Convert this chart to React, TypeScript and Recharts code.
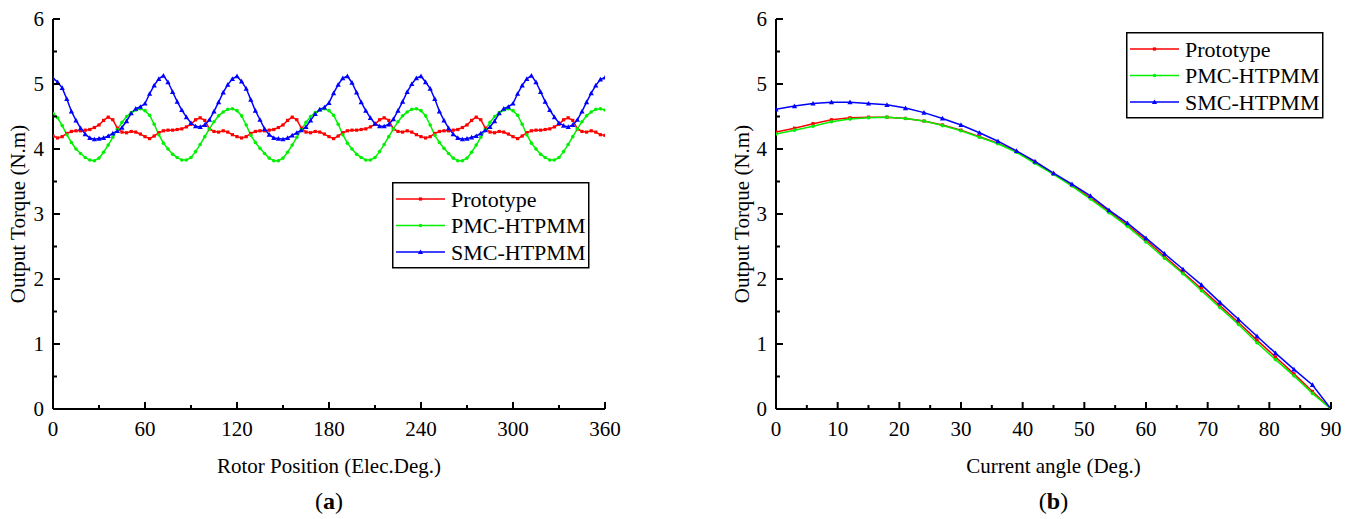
import React from 'react';
import { LineChart, Line, XAxis, YAxis } from 'recharts';

const FONT = '"Liberation Serif", "Times New Roman", serif';

// ---------- (a) Output torque vs rotor position ----------
const rotorAngle = [
  0, 3, 6, 9, 12, 15, 18, 21, 24, 27, 30, 33, 36, 39, 42, 45, 48, 51, 54, 57,
  60, 63, 66, 69, 72, 75, 78, 81, 84, 87, 90, 93, 96, 99, 102, 105, 108, 111, 114, 117,
  120, 123, 126, 129, 132, 135, 138, 141, 144, 147, 150, 153, 156, 159, 162, 165, 168, 171, 174, 177,
  180, 183, 186, 189, 192, 195, 198, 201, 204, 207, 210, 213, 216, 219, 222, 225, 228, 231, 234, 237,
  240, 243, 246, 249, 252, 255, 258, 261, 264, 267, 270, 273, 276, 279, 282, 285, 288, 291, 294, 297,
  300, 303, 306, 309, 312, 315, 318, 321, 324, 327, 330, 333, 336, 339, 342, 345, 348, 351, 354, 357,
  360,
];

const prototypeA = [
  4.20, 4.17, 4.19, 4.24, 4.27, 4.28, 4.28, 4.29, 4.30, 4.33, 4.37, 4.44, 4.49, 4.45, 4.32, 4.26, 4.25, 4.27, 4.26, 4.23,
  4.19, 4.16, 4.20, 4.25, 4.28, 4.29, 4.29, 4.30, 4.31, 4.34, 4.38, 4.45, 4.48, 4.44, 4.31, 4.27, 4.26, 4.28, 4.26, 4.22,
  4.19, 4.17, 4.19, 4.24, 4.27, 4.28, 4.28, 4.29, 4.30, 4.33, 4.37, 4.44, 4.49, 4.45, 4.32, 4.26, 4.25, 4.27, 4.26, 4.23,
  4.19, 4.16, 4.20, 4.25, 4.28, 4.29, 4.29, 4.30, 4.31, 4.34, 4.38, 4.45, 4.48, 4.44, 4.31, 4.27, 4.26, 4.28, 4.26, 4.22,
  4.19, 4.17, 4.19, 4.24, 4.27, 4.28, 4.28, 4.29, 4.30, 4.33, 4.37, 4.44, 4.49, 4.45, 4.32, 4.26, 4.25, 4.27, 4.26, 4.23,
  4.19, 4.16, 4.20, 4.25, 4.28, 4.29, 4.29, 4.30, 4.31, 4.34, 4.38, 4.45, 4.48, 4.44, 4.31, 4.27, 4.26, 4.28, 4.26, 4.22,
  4.21,
];

const pmcA = [
  4.55, 4.48, 4.36, 4.22, 4.10, 4.00, 3.93, 3.87, 3.83, 3.82, 3.86, 3.95, 4.06, 4.18, 4.30, 4.41, 4.50, 4.56, 4.60, 4.62,
  4.59, 4.52, 4.38, 4.22, 4.09, 4.00, 3.92, 3.87, 3.83, 3.83, 3.87, 3.96, 4.07, 4.19, 4.31, 4.42, 4.51, 4.57, 4.61, 4.62,
  4.59, 4.51, 4.37, 4.21, 4.10, 4.01, 3.93, 3.86, 3.82, 3.82, 3.86, 3.95, 4.06, 4.18, 4.30, 4.41, 4.50, 4.56, 4.60, 4.62,
  4.59, 4.52, 4.38, 4.22, 4.09, 4.00, 3.92, 3.87, 3.83, 3.83, 3.87, 3.96, 4.07, 4.19, 4.31, 4.42, 4.51, 4.57, 4.61, 4.62,
  4.59, 4.51, 4.37, 4.21, 4.10, 4.01, 3.93, 3.86, 3.82, 3.82, 3.86, 3.95, 4.06, 4.18, 4.30, 4.41, 4.50, 4.56, 4.60, 4.62,
  4.59, 4.52, 4.38, 4.22, 4.09, 4.00, 3.92, 3.87, 3.83, 3.83, 3.87, 3.96, 4.07, 4.19, 4.31, 4.42, 4.51, 4.57, 4.61, 4.62,
  4.60,
];

const smcA = [
  5.09, 5.03, 4.94, 4.77, 4.58, 4.44, 4.32, 4.23, 4.17, 4.15, 4.16, 4.17, 4.20, 4.24, 4.28, 4.33, 4.43, 4.55, 4.62, 4.65,
  4.70, 4.85, 4.98, 5.08, 5.13, 5.03, 4.88, 4.73, 4.60, 4.49, 4.40, 4.35, 4.34, 4.37, 4.45, 4.58, 4.72, 4.87, 4.99, 5.08,
  5.12, 5.04, 4.93, 4.76, 4.59, 4.45, 4.31, 4.22, 4.17, 4.16, 4.15, 4.17, 4.21, 4.25, 4.29, 4.34, 4.44, 4.54, 4.61, 4.64,
  4.71, 4.86, 4.99, 5.09, 5.12, 5.02, 4.87, 4.72, 4.59, 4.48, 4.39, 4.35, 4.35, 4.38, 4.46, 4.59, 4.73, 4.88, 5.00, 5.09,
  5.12, 5.03, 4.93, 4.77, 4.58, 4.44, 4.32, 4.23, 4.17, 4.15, 4.16, 4.18, 4.20, 4.24, 4.29, 4.34, 4.43, 4.55, 4.62, 4.65,
  4.70, 4.85, 4.98, 5.08, 5.13, 5.03, 4.88, 4.73, 4.60, 4.49, 4.40, 4.36, 4.34, 4.37, 4.45, 4.58, 4.72, 4.86, 4.98, 5.07,
  5.10,
];

// ---------- (b) Output torque vs current angle ----------
const currentAngle = [0, 3, 6, 9, 12, 15, 18, 21, 24, 27, 30, 33, 36, 39, 42, 45, 48, 51, 54, 57, 60, 63, 66, 69, 72, 75, 78, 81, 84, 87, 90];

const prototypeB = [4.26, 4.32, 4.39, 4.45, 4.48, 4.49, 4.49, 4.47, 4.43, 4.37, 4.29, 4.19, 4.09, 3.96, 3.80, 3.62, 3.44, 3.25, 3.04, 2.83, 2.60, 2.35, 2.10, 1.85, 1.59, 1.33, 1.06, 0.80, 0.54, 0.27, 0];
const pmcB = [4.23, 4.29, 4.35, 4.42, 4.46, 4.48, 4.49, 4.47, 4.43, 4.36, 4.28, 4.18, 4.08, 3.95, 3.78, 3.61, 3.43, 3.23, 3.02, 2.81, 2.57, 2.32, 2.08, 1.82, 1.56, 1.30, 1.02, 0.76, 0.51, 0.24, 0];
const smcB = [4.61, 4.66, 4.70, 4.72, 4.72, 4.70, 4.68, 4.63, 4.56, 4.47, 4.37, 4.25, 4.12, 3.97, 3.81, 3.63, 3.46, 3.28, 3.06, 2.86, 2.63, 2.39, 2.15, 1.91, 1.64, 1.38, 1.12, 0.86, 0.61, 0.37, 0];

// ---------- ticks / labels ----------
const rotorTicks = [0, 30, 60, 90, 120, 150, 180, 210, 240, 270, 300, 330, 360];
const rotorMajor = [0, 60, 120, 180, 240, 300, 360];
const currentTicks = [0, 5, 10, 15, 20, 25, 30, 35, 40, 45, 50, 55, 60, 65, 70, 75, 80, 85, 90];
const currentMajor = [0, 10, 20, 30, 40, 50, 60, 70, 80, 90];
const torqueTicks = [0, 0.5, 1, 1.5, 2, 2.5, 3, 3.5, 4, 4.5, 5, 5.5, 6];
const torqueMajor = [0, 1, 2, 3, 4, 5, 6];

const seriesNames = ['Prototype', 'PMC-HTPMM', 'SMC-HTPMM'];
const seriesColors = ['#ff0000', '#00f000', '#0000ff'];
const seriesKeys = ['p', 'm', 's'];
const markerShapes = ['square', 'circle', 'triangle'];

const rotorData = rotorAngle.map((a, i) => ({ a, p: prototypeA[i], m: pmcA[i], s: smcA[i] }));
const currentData = currentAngle.map((a, i) => ({ a, p: prototypeB[i], m: pmcB[i], s: smcB[i] }));

const AXIS_LINE = { stroke: '#000', strokeWidth: 2 };

function isMajor(v: number, majors: number[]) {
  return majors.some((m) => Math.abs(m - v) < 1e-9);
}

function makeTick(side: 'bottom' | 'top' | 'left' | 'right', majors: number[], withLabel: boolean) {
  return (props: any) => {
    const { x, y, payload } = props;
    const v = payload.value;
    const len = isMajor(v, majors) ? 7 : 4;
    const st = { stroke: '#000', strokeWidth: 2 };
    let ln: any = null;
    let lbl: any = null;
    if (side === 'bottom') {
      ln = <line x1={x} y1={y} x2={x} y2={y - len} {...st} />;
      if (withLabel && isMajor(v, majors))
        lbl = (
          <text x={x} y={y + 27} textAnchor="middle" fontSize={21} fontFamily={FONT} fill="#000">
            {v}
          </text>
        );
    } else if (side === 'top') {
      ln = <line x1={x} y1={y} x2={x} y2={y + len} {...st} />;
    } else if (side === 'left') {
      ln = <line x1={x} y1={y} x2={x + len} y2={y} {...st} />;
      if (withLabel && isMajor(v, majors))
        lbl = (
          <text x={x - 9} y={y} dy="0.35em" textAnchor="end" fontSize={21} fontFamily={FONT} fill="#000">
            {v}
          </text>
        );
    } else {
      ln = <line x1={x} y1={y} x2={x - len} y2={y} {...st} />;
    }
    return (
      <g>
        {ln}
        {lbl}
      </g>
    );
  };
}

function Marker({ cx, cy, shape, color }: { cx: number; cy: number; shape: string; color: string }) {
  if (cx == null || cy == null || isNaN(cx) || isNaN(cy)) return <g />;
  if (shape === 'triangle') {
    const s = 2.6;
    return <path d={`M${cx},${cy - s} L${cx + s},${cy + s * 0.8} L${cx - s},${cy + s * 0.8} Z`} fill={color} />;
  }
  if (shape === 'circle') {
    return <circle cx={cx} cy={cy} r={1.8} fill={color} />;
  }
  return <rect x={cx - 1.6} y={cy - 1.6} width={3.2} height={3.2} fill={color} />;
}

function makeDot(i: number) {
  return (props: any) => (
    <Marker key={`dot-${i}-${props.index}`} cx={props.cx} cy={props.cy} shape={markerShapes[i]} color={seriesColors[i]} />
  );
}

function xTitle(title: string, letter: string) {
  return (props: any) => {
    const vb = props.viewBox || {};
    const cx = vb.x + vb.width / 2;
    return (
      <g>
        <text x={cx} y={vb.y + 64} textAnchor="middle" fontSize={21} fontFamily={FONT} fill="#000">
          {title}
        </text>
        <text x={cx} y={vb.y + 100} textAnchor="middle" fontSize={24} fontFamily={FONT} fill="#000">
          (<tspan fontWeight="bold">{letter}</tspan>)
        </text>
      </g>
    );
  };
}

function yTitle(title: string, dx: number) {
  return (props: any) => {
    const vb = props.viewBox || {};
    const x = vb.x + dx;
    const y = vb.y + vb.height / 2;
    return (
      <text
        x={x}
        y={y}
        transform={`rotate(-90 ${x} ${y})`}
        textAnchor="middle"
        dominantBaseline="central"
        fontSize={21}
        fontFamily={FONT}
        fill="#000"
      >
        {title}
      </text>
    );
  };
}

function LegendBox({ left, top }: { left: number; top: number }) {
  return (
    <svg
      width={198}
      height={88}
      style={{ position: 'absolute', left, top, overflow: 'visible' }}
    >
      <rect x={0.75} y={0.75} width={196} height={85} fill="#fff" stroke="#000" strokeWidth={1.5} />
      {seriesNames.map((n, i) => {
        const cy = 17 + i * 26.5;
        return (
          <g key={n}>
            <line x1={4} y1={cy} x2={53} y2={cy} stroke={seriesColors[i]} strokeWidth={1.6} />
            <Marker cx={28.5} cy={cy} shape={markerShapes[i]} color={seriesColors[i]} />
            <text x={59} y={cy} dy="0.35em" fontSize={22} fontFamily={FONT} fill="#000">
              {n}
            </text>
          </g>
        );
      })}
    </svg>
  );
}

function Panel(props: {
  data: any[];
  width: number;
  margin: any;
  domainX: number[];
  ticksX: number[];
  majorX: number[];
  xLabel: string;
  letter: string;
  yTitleDx: number;
}) {
  const { data, width, margin, domainX, ticksX, majorX, xLabel, letter, yTitleDx } = props;
  return (
    <LineChart width={width} height={519} data={data} margin={margin}>
      <XAxis
        xAxisId="t"
        orientation="top"
        dataKey="a"
        type="number"
        domain={domainX}
        ticks={ticksX}
        interval={0}
        height={0}
        tickSize={0}
        tickMargin={0}
        tickLine={false}
        axisLine={AXIS_LINE}
        tick={makeTick('top', majorX, false)}
        allowDataOverflow
      />
      <XAxis
        xAxisId="b"
        orientation="bottom"
        dataKey="a"
        type="number"
        domain={domainX}
        ticks={ticksX}
        interval={0}
        height={110}
        tickSize={0}
        tickMargin={0}
        tickLine={false}
        axisLine={AXIS_LINE}
        tick={makeTick('bottom', majorX, true)}
        label={{ content: xTitle(xLabel, letter) }}
        allowDataOverflow
      />
      <YAxis
        yAxisId="l"
        orientation="left"
        type="number"
        domain={[0, 6]}
        ticks={torqueTicks}
        interval={0}
        width={53}
        tickSize={0}
        tickMargin={0}
        tickLine={false}
        axisLine={AXIS_LINE}
        tick={makeTick('left', torqueMajor, true)}
        label={{ content: yTitle('Output Torque (N.m)', yTitleDx) }}
        allowDataOverflow
      />
      <YAxis
        yAxisId="r"
        orientation="right"
        type="number"
        domain={[0, 6]}
        ticks={torqueTicks}
        interval={0}
        width={0}
        tickSize={0}
        tickMargin={0}
        tickLine={false}
        axisLine={AXIS_LINE}
        tick={makeTick('right', torqueMajor, false)}
        allowDataOverflow
      />
      {seriesKeys.map((k, i) => (
        <Line
          key={k}
          xAxisId="b"
          yAxisId="l"
          type="linear"
          dataKey={k}
          stroke={seriesColors[i]}
          strokeWidth={1.5}
          dot={makeDot(i)}
          activeDot={false}
          isAnimationActive={false}
        />
      ))}
    </LineChart>
  );
}

export default function App() {
  return (
    <div style={{ position: 'absolute', left: 0, top: 0, width: 1357, height: 519, background: '#fff', overflow: 'hidden' }}>
      <div style={{ position: 'absolute', left: 0, top: 0 }}>
        <Panel
          data={rotorData}
          width={640}
          margin={{ top: 19, right: 35, bottom: 0, left: 0 }}
          domainX={[0, 360]}
          ticksX={rotorTicks}
          majorX={rotorMajor}
          xLabel="Rotor Position (Elec.Deg.)"
          letter="a"
          yTitleDx={18}
        />
      </div>
      <div style={{ position: 'absolute', left: 680, top: 0 }}>
        <Panel
          data={currentData}
          width={677}
          margin={{ top: 19, right: 26, bottom: 0, left: 43 }}
          domainX={[0, 90]}
          ticksX={currentTicks}
          majorX={currentMajor}
          xLabel="Current angle (Deg.)"
          letter="b"
          yTitleDx={19}
        />
      </div>
      <LegendBox left={392} top={182} />
      <LegendBox left={1126} top={32} />
    </div>
  );
}
